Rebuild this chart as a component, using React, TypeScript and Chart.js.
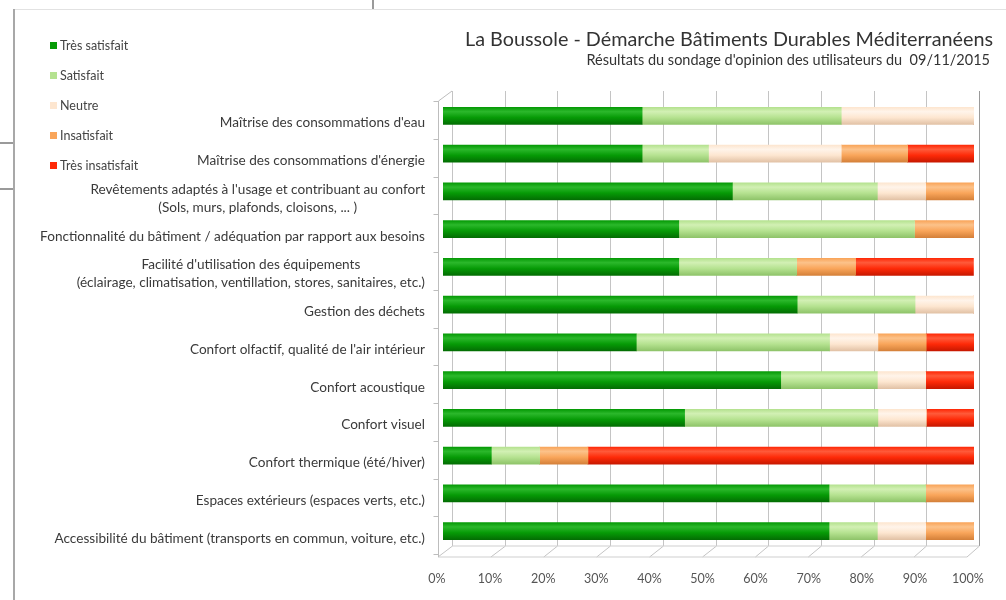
import React, { useEffect, useRef } from "react";
import { Chart, registerables } from "chart.js";

Chart.register(...registerables);

const categories: (string | string[])[] = [
  "Maîtrise des consommations d'eau",
  "Maîtrise des consommations d'énergie",
  ["Revêtements adaptés à l'usage et contribuant au confort", "(Sols, murs, plafonds, cloisons, ... )"],
  "Fonctionnalité du bâtiment / adéquation par rapport aux besoins",
  ["Facilité d'utilisation des équipements", "(éclairage, climatisation, ventillation, stores, sanitaires, etc.)"],
  "Gestion des déchets",
  "Confort olfactif, qualité de l'air intérieur",
  "Confort acoustique",
  "Confort visuel",
  "Confort thermique (été/hiver)",
  "Espaces extérieurs (espaces verts, etc.)",
  "Accessibilité du bâtiment (transports en commun, voiture, etc.)",
];

const seriesNames = ["Très satisfait", "Satisfait", "Neutre", "Insatisfait", "Très insatisfait"];

const tresSatisfait = [37.5, 37.5, 54.5, 44.4, 44.4, 66.7, 36.4, 63.6, 45.5, 9.1, 72.7, 72.7];
const satisfait = [37.5, 12.5, 27.3, 44.4, 22.2, 22.2, 36.4, 18.2, 36.4, 9.1, 18.2, 9.1];
const neutre = [25.0, 25.0, 9.1, 0, 0, 11.1, 9.1, 9.1, 9.1, 0, 0, 9.1];
const insatisfait = [0, 12.5, 9.1, 11.1, 11.1, 0, 9.1, 0, 0, 9.1, 9.1, 9.1];
const tresInsatisfait = [0, 12.5, 0, 0, 22.2, 0, 9.1, 9.1, 9.1, 72.7, 0, 0];

const xTicks = [0, 10, 20, 30, 40, 50, 60, 70, 80, 90, 100];

const palette = [
  { light: "#2bb82b", base: "#069a06", dark: "#036e03" },
  { light: "#d2f0b4", base: "#b5e290", dark: "#8fc46a" },
  { light: "#fff4ea", base: "#fde6d0", dark: "#e2c2a6" },
  { light: "#fcc28a", base: "#f9a55a", dark: "#d5813a" },
  { light: "#ff5a3a", base: "#fe2a08", dark: "#c81800" },
];

const FONT = "Lato, 'Open Sans', sans-serif";

export default function App() {
  const ref = useRef<HTMLCanvasElement | null>(null);

  useEffect(() => {
    if (!ref.current) return;
    const values = [tresSatisfait, satisfait, neutre, insatisfait, tresInsatisfait];
    const barH = 17;

    const frame3d = {
      id: "frame3d",
      beforeDatasetsDraw(chart: any) {
        const { ctx, chartArea } = chart;
        const xs = chart.scales.x;
        const ys = chart.scales.y;
        const top = chartArea.top;
        const bottom = chartArea.bottom;
        const backX = (v: number) => xs.getPixelForValue(v) + 9 - 0.04 * v;
        const frontX = (v: number) => xs.getPixelForValue(v) - 5 - 0.02 * v;
        ctx.save();
        ctx.lineWidth = 1;
        xTicks.forEach((v) => {
          const bx = Math.round(backX(v)) + 0.5;
          ctx.strokeStyle = v === 100 ? "#9a9a9a" : "#c4c4c4";
          ctx.beginPath();
          ctx.moveTo(bx, top - 6);
          ctx.lineTo(bx, bottom - 4);
          ctx.stroke();
          ctx.strokeStyle = "#c4c4c4";
          ctx.beginPath();
          ctx.moveTo(bx, bottom - 4);
          ctx.lineTo(frontX(v), bottom + 7);
          ctx.stroke();
        });
        ctx.strokeStyle = "#cfcfcf";
        ctx.beginPath();
        ctx.moveTo(backX(0), bottom - 4);
        ctx.lineTo(backX(100), bottom - 4);
        ctx.stroke();
        ctx.beginPath();
        ctx.moveTo(frontX(0), bottom + 7);
        ctx.lineTo(frontX(100), bottom + 7);
        ctx.stroke();
        const fx0 = Math.round(frontX(0)) + 0.5;
        ctx.strokeStyle = "#bdbdbd";
        ctx.beginPath();
        ctx.moveTo(fx0, top + 4);
        ctx.lineTo(fx0, bottom + 7);
        ctx.stroke();
        ctx.beginPath();
        ctx.moveTo(fx0, top + 4);
        ctx.lineTo(backX(0), top - 6);
        ctx.stroke();
        const n = categories.length;
        const band = (bottom - top) / n;
        for (let i = 0; i <= n; i++) {
          const yy = Math.round(top + 4 + i * band) + 0.5;
          ctx.beginPath();
          ctx.moveTo(fx0 - 5, yy);
          ctx.lineTo(fx0, yy);
          ctx.stroke();
        }
        ctx.fillStyle = "#3a3a3a";
        ctx.font = "13.6px " + FONT;
        ctx.textAlign = "center";
        ctx.textBaseline = "middle";
        const right = chartArea.left - 18;
        categories.forEach((lab, i) => {
          const lines = Array.isArray(lab) ? lab : [lab];
          let maxW = 0;
          lines.forEach((l) => {
            maxW = Math.max(maxW, ctx.measureText(l).width);
          });
          const cy = ys.getPixelForValue(i) + 7;
          const cx = right - maxW / 2;
          lines.forEach((l, k) => {
            ctx.fillText(l, cx, cy - (lines.length - 1) * 9 + k * 18);
          });
        });
        ctx.restore();
      },
    };

    const chart = new Chart(ref.current, {
      type: "bar",
      data: {
        labels: categories as any,
        datasets: seriesNames.map((name, si) => ({
          label: name,
          data: values[si],
          barThickness: barH,
          borderWidth: 0,
          borderSkipped: false,
          backgroundColor: (c: any) => {
            const ch = c.chart;
            const ys = ch.scales && ch.scales.y;
            const p = palette[si];
            if (!ys || !ch.chartArea) return p.base;
            const cy = ys.getPixelForValue(c.dataIndex);
            const g = ch.ctx.createLinearGradient(0, cy - barH / 2, 0, cy + barH / 2);
            g.addColorStop(0, p.base);
            g.addColorStop(0.25, p.light);
            g.addColorStop(0.6, p.base);
            g.addColorStop(1, p.dark);
            return g;
          },
        })),
      },
      options: {
        indexAxis: "y",
        animation: false,
        responsive: false,
        maintainAspectRatio: false,
        layout: { padding: { left: 443, right: 32, top: 97, bottom: -7 } },
        plugins: {
          legend: { display: false },
          tooltip: { enabled: false },
          title: { display: false },
        },
        scales: {
          x: {
            stacked: true,
            min: 0,
            max: 100,
            grid: { display: false, drawTicks: false },
            border: { display: false },
            afterBuildTicks: (s: any) => {
              s.ticks = xTicks.map((v) => ({ value: v }));
            },
            afterFit: (s: any) => {
              s.paddingLeft = 0;
              s.paddingRight = 0;
            },
            ticks: {
              padding: 21,
              labelOffset: -6,
              color: "#555",
              font: { family: FONT, size: 12.5 },
              callback: (v: any) => v + "%",
            },
          },
          y: {
            stacked: true,
            display: false,
            grid: { display: false },
          },
        },
      },
      plugins: [frame3d],
    } as any);
    return () => chart.destroy();
  }, []);

  const legendColors = palette.map((p) => p.base);

  return (
    <div
      style={{
        position: "absolute",
        left: 0,
        top: 0,
        width: 1006,
        height: 600,
        background: "#fff",
        overflow: "hidden",
        fontFamily: FONT,
      }}
    >
      <div style={{ position: "absolute", left: 13, top: 9, width: 2, height: 591, background: "#a8a8a8" }} />
      <div style={{ position: "absolute", left: 15, top: 9, width: 991, height: 1, background: "#e2e2e2" }} />
      <div style={{ position: "absolute", left: 372, top: 0, width: 2, height: 9, background: "#9a9a9a" }} />
      <div style={{ position: "absolute", left: 0, top: 142, width: 13, height: 2, background: "#9a9a9a" }} />
      <div style={{ position: "absolute", left: 0, top: 188, width: 13, height: 2, background: "#9a9a9a" }} />

      <canvas ref={ref} width={1006} height={600} style={{ position: "absolute", left: 0, top: 0 }} />

      <div
        style={{
          position: "absolute",
          right: 13,
          top: 26,
          fontSize: 19.8,
          color: "#333",
          whiteSpace: "nowrap",
          lineHeight: "24px",
        }}
      >
        La Boussole - Démarche Bâtiments Durables Méditerranéens
      </div>
      <div
        style={{
          position: "absolute",
          right: 16,
          top: 51,
          fontSize: 14.5,
          color: "#333",
          whiteSpace: "pre",
          lineHeight: "18px",
        }}
      >
        {"Résultats du sondage d'opinion des utilisateurs du  09/11/2015"}
      </div>

      {seriesNames.map((name, i) => (
        <div
          key={name}
          style={{
            position: "absolute",
            left: 50,
            top: 37 + i * 30,
            height: 16,
            display: "flex",
            alignItems: "center",
            fontSize: 12.5,
            color: "#444",
            whiteSpace: "nowrap",
          }}
        >
          <span
            style={{
              display: "inline-block",
              width: 7,
              height: 7,
              background: legendColors[i],
              marginRight: 3,
            }}
          />
          {name}
        </div>
      ))}
    </div>
  );
}
